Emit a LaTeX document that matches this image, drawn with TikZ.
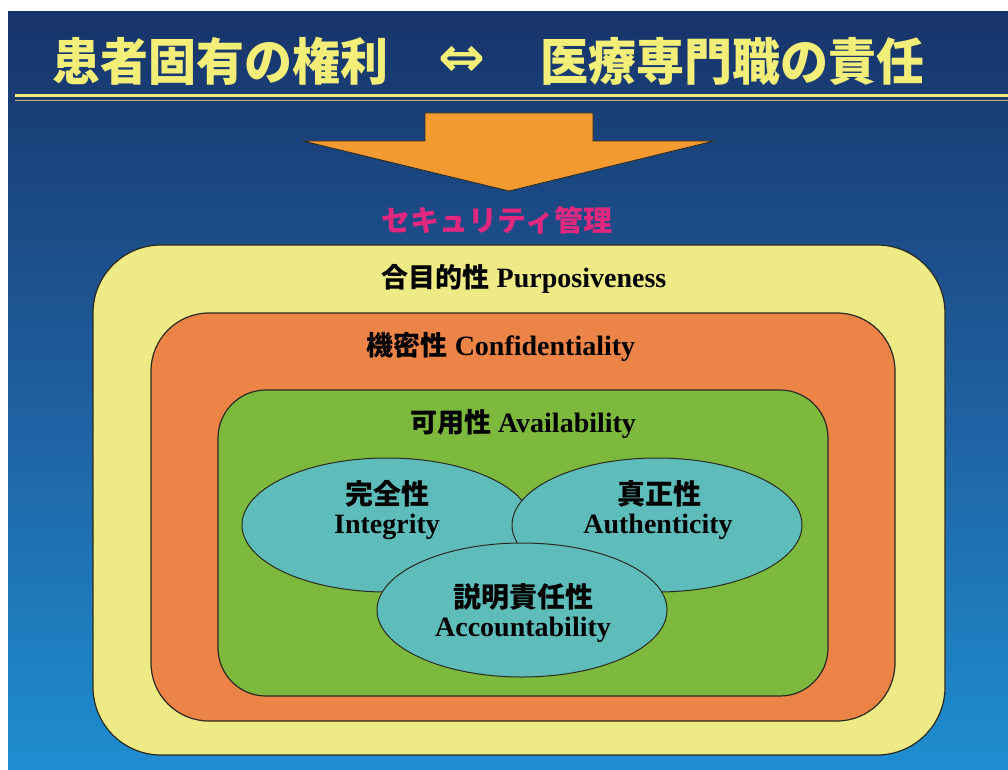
\documentclass[tikz,border=0pt]{standalone}
\usepackage{fontspec}
\setmainfont{Liberation Serif}
\newfontfamily\jp{Noto Sans CJK JP}
\newfontfamily\sym{DejaVu Sans}
\usetikzlibrary{shapes.geometric}
\definecolor{navy}{HTML}{17346A}
\definecolor{midblue}{HTML}{1F5E9E}
\definecolor{lightblue}{HTML}{1E8ED0}
\definecolor{titleyellow}{HTML}{F2EE78}
\definecolor{arroworange}{HTML}{F39A30}
\definecolor{secmagenta}{HTML}{E2287E}
\definecolor{boxyellow}{HTML}{EEEA86}
\definecolor{boxorange}{HTML}{EC8448}
\definecolor{boxgreen}{HTML}{7CB93C}
\definecolor{ellteal}{HTML}{5EBDBA}
\definecolor{edge}{HTML}{2A2A20}
\newcommand{\jplab}{\jp\bfseries\fontsize{27}{30}\selectfont}
\newcommand{\enlab}{\bfseries\fontsize{28}{30}\selectfont}
\tikzset{
  layerbox/.style={draw=edge, line width=1.2pt, inner sep=0pt, rectangle},
  ell/.style={ellipse, draw=edge, line width=1pt, fill=ellteal, inner sep=0pt,
    minimum width=290pt, minimum height=134pt},
  lbl/.style={font=\enlab, text=black, inner sep=0pt},
  jplbl/.style={font=\jp\bfseries\fontsize{28}{30}\selectfont, text=black, inner sep=0pt},
  boxlbl/.style={inner sep=0pt, text=black},
  titletxt/.style={font=\fontsize{48}{52}\selectfont\jp\bfseries, text=titleyellow, inner sep=0pt, yscale=1.05}
}
\begin{document}
\begin{tikzpicture}[x=1pt,y=-1pt]
\useasboundingbox (0,0) rectangle (1008,770);
\fill[white] (0,0) rectangle (1008,770);
\shade[top color=navy, bottom color=lightblue, middle color=midblue] (8,12) rectangle (1008,770);
% title
\node[titletxt] (tl) at (220,61) {患者固有の権利};
\node[font=\fontsize{56}{60}\selectfont\sym\bfseries, text=titleyellow, inner sep=0pt] (tarr) at (462,61) {⇔};
\node[titletxt] (tr) at (732,61) {医療専門職の責任};
\draw[titleyellow, line width=3.5pt] (15,95.5) -- (1008,95.5);
\draw[titleyellow!80!black, line width=1.2pt] (15,100.5) -- (1008,100.5);
% big arrow
\draw[fill=arroworange, draw=edge, line width=0.8pt]
  (425,113) -- (593,113) -- (593,141) -- (714,141) -- (509,191) -- (303,141) -- (425,141) -- cycle;
\node[font=\fontsize{29}{32}\selectfont\jp\bfseries, text=secmagenta, inner sep=0pt] (sec) at (497,220) {セキュリティ管理};
% layers
\node[layerbox, fill=boxyellow, rounded corners=68pt, minimum width=852pt, minimum height=510pt] (py) at (519,500) {};
\node[layerbox, fill=boxorange, rounded corners=58pt, minimum width=744pt, minimum height=408pt] (po) at (523,517) {};
\node[layerbox, fill=boxgreen, rounded corners=48pt, minimum width=610pt, minimum height=306pt] (pg) at (523,543) {};
\node[boxlbl] (lp) at (524,279) {{\jplab 合目的性}\hspace{7pt}{\enlab Purposiveness}};
\node[boxlbl] (lc) at (501,347) {{\jplab 機密性}\hspace{7pt}{\enlab Confidentiality}};
\node[boxlbl] (la) at (523,424) {{\jplab 可用性}\hspace{7pt}{\enlab Availability}};
% ellipses
\node[ell] (ei) at (387,525) {};
\node[ell] (eau) at (657,525) {};
\node[ell] (eac) at (522,610) {};
\node[jplbl] (ti1) at (387,494) {完全性};
\node[lbl] (ti2) at (387,527) {Integrity};
\node[jplbl] (ta1) at (659,494) {真正性};
\node[lbl] (ta2) at (658,527) {Authenticity};
\node[jplbl] (tc1) at (523,597) {説明責任性};
\node[lbl] (tc2) at (523,630) {Accountability};
\end{tikzpicture}
\end{document}
